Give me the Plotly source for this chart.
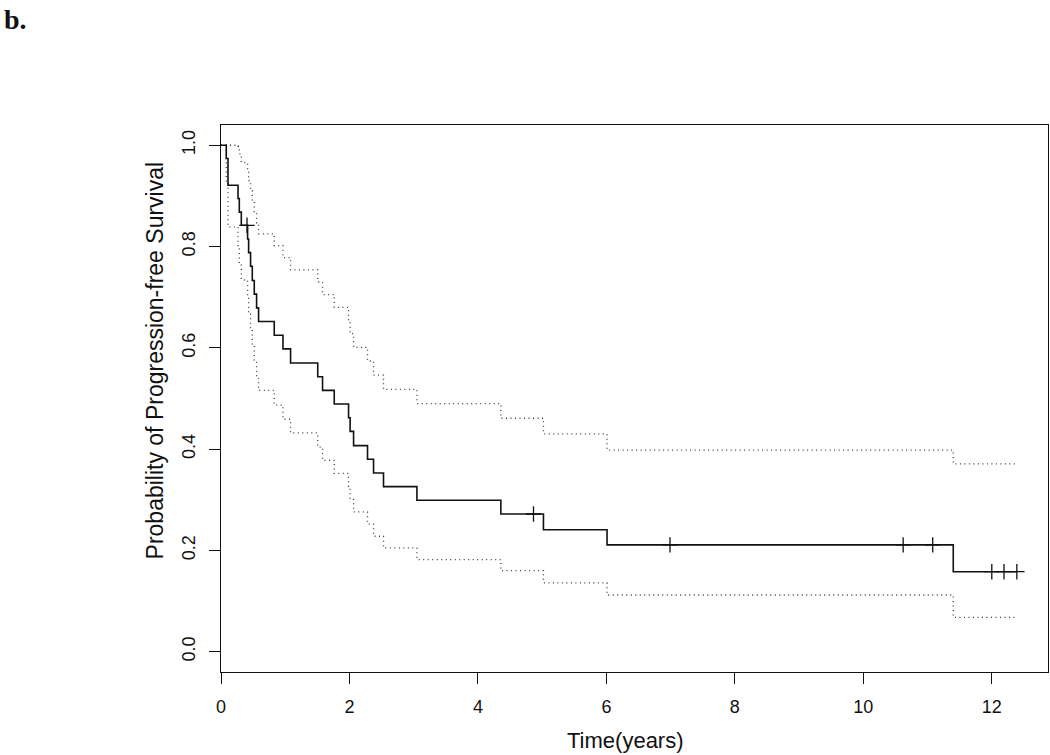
import plotly.graph_objects as go

# Kaplan-Meier step data
times = [0, 0.082, 0.109, 0.265, 0.285, 0.316, 0.414, 0.43, 0.46, 0.487, 0.518, 0.554, 0.585,
         0.829, 0.965, 1.083, 1.506, 1.581, 1.763, 1.986, 2.01, 2.064, 2.281, 2.375, 2.53,
         3.05, 4.357, 5.02, 6.01, 11.40, 12.39]
surv = [1.0, 0.974, 0.921, 0.895, 0.868, 0.842, 0.815, 0.788, 0.761, 0.733, 0.706, 0.679, 0.652,
        0.625, 0.598, 0.570, 0.543, 0.516, 0.489, 0.462, 0.435, 0.407, 0.380, 0.353, 0.326,
        0.299, 0.272, 0.241, 0.211, 0.158, 0.158]
upper = [1.0, 1.0, 1.0, 0.998, 0.983, 0.966, 0.949, 0.930, 0.910, 0.890, 0.869, 0.847, 0.825,
         0.802, 0.778, 0.754, 0.730, 0.705, 0.680, 0.654, 0.628, 0.601, 0.574, 0.546, 0.518,
         0.490, 0.461, 0.430, 0.398, 0.371, 0.371]
lower = [1.0, 0.924, 0.839, 0.802, 0.767, 0.734, 0.700, 0.667, 0.636, 0.605, 0.574, 0.545, 0.516,
         0.487, 0.459, 0.432, 0.404, 0.378, 0.352, 0.326, 0.301, 0.276, 0.252, 0.228, 0.205,
         0.182, 0.160, 0.136, 0.112, 0.068, 0.068]

cens_t = [0.405, 4.865, 6.99, 10.62, 11.08, 12.0, 12.19, 12.39]
cens_s = [0.842, 0.272, 0.211, 0.211, 0.211, 0.158, 0.158, 0.158]

xticks = [0, 2, 4, 6, 8, 10, 12]
yticks = [0.0, 0.2, 0.4, 0.6, 0.8, 1.0]

fig = go.Figure()
dotline = dict(color="#3a3a3a", width=1.3, dash="1px,3.5px", shape="hv")
fig.add_trace(go.Scatter(x=times, y=upper, mode="lines", line=dotline, hoverinfo="skip"))
fig.add_trace(go.Scatter(x=times, y=lower, mode="lines", line=dotline, hoverinfo="skip"))
fig.add_trace(go.Scatter(x=times, y=surv, mode="lines",
                         line=dict(color="#111111", width=1.6, shape="hv")))
fig.add_trace(go.Scatter(x=cens_t, y=cens_s, mode="markers",
                         marker=dict(symbol="cross-thin", size=11,
                                     line=dict(color="#111111", width=1.3))))

L, R, T, B = 220.7, 1048, 125, 671.7
W, H = 1050, 755
def px(x):
    return (x - L) / (R - L)
def py(y):
    return (B - y) / (B - T)

fig.update_layout(
    width=W, height=H,
    margin=dict(l=L, r=W - R, t=T, b=H - B, pad=0),
    paper_bgcolor="white", plot_bgcolor="white",
    showlegend=False,
    font=dict(family="Liberation Sans, Arial, sans-serif", color="#111111"),
    xaxis=dict(range=[0, 12.875], tickvals=xticks, ticktext=[str(v) for v in xticks],
               ticks="outside", ticklen=11, tickwidth=1.2, tickcolor="#111111",
               showline=True, linecolor="#111111", linewidth=1.3, mirror=True,
               showgrid=False, zeroline=False, tickfont=dict(size=18),
               ticklabelstandoff=7),
    yaxis=dict(range=[-0.04, 1.04], tickvals=yticks, ticktext=[f"{v:.1f}" for v in yticks],
               ticks="outside", ticklen=11, tickwidth=1.2, tickcolor="#111111",
               showline=True, linecolor="#111111", linewidth=1.3, mirror=True,
               showgrid=False, zeroline=False, tickfont=dict(size=18), tickangle=-90,
               ticklabelstandoff=7),
    annotations=[
        dict(text="Time(years)", xref="paper", yref="paper", x=px(625), y=py(740),
             showarrow=False, font=dict(size=22), xanchor="center", yanchor="middle"),
        dict(text="Probability of Progression-free Survival", xref="paper", yref="paper",
             x=px(155), y=py(360), showarrow=False, font=dict(size=23), textangle=-90,
             xanchor="center", yanchor="middle"),
        dict(text="<b>b.</b>", xref="paper", yref="paper", x=px(2), y=py(2),
             showarrow=False, font=dict(size=28, family="Liberation Serif, Times New Roman, serif"),
             xanchor="left", yanchor="top"),
    ],
)

fig.write_html("out.html", config={"displayModeBar": False},
               post_script="document.body.style.margin='0px';")
